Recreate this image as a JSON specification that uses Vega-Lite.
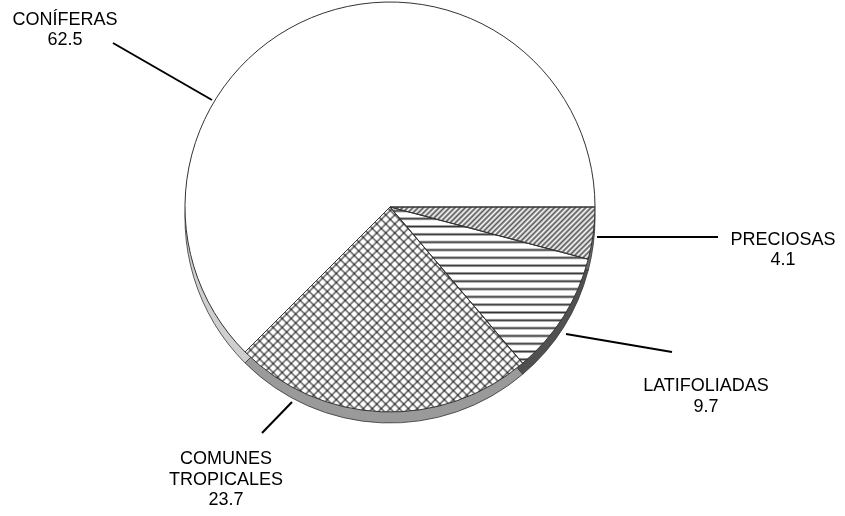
{
"$schema":"https://vega.github.io/schema/vega-lite/v6.json",
"width":780,"height":414,"autosize":"none",
"padding":{"left":0,"top":0,"right":65,"bottom":102},
"background":"#ffffff",
"config":{"view":{"stroke":null}},
"data":{"values":[
{"tipo":"PRECIOSAS","valor":4.1,"orden":1},
{"tipo":"LATIFOLIADAS","valor":9.7,"orden":2},
{"tipo":"COMUNES TROPICALES","valor":23.7,"orden":3},
{"tipo":"CONÍFERAS","valor":62.5,"orden":4}
]},
"layer":[
{
"encoding":{
"theta":{"field":"valor","type":"quantitative","stack":true,"scale":{"range":[1.5707963,7.8539816]}},
"order":{"field":"orden","type":"quantitative"},
"detail":{"field":"tipo","type":"nominal"}
},
"layer":[
{"mark":{"type":"arc","radius":205,"yOffset":11,"stroke":"#333333","strokeWidth":0.8},
"encoding":{"fill":{"condition":[
{"test":"datum.tipo==='CONÍFERAS'","value":"#cfcfcf"},
{"test":"datum.tipo==='COMUNES TROPICALES'","value":"#9a9a9a"},
{"test":"datum.tipo==='LATIFOLIADAS'","value":"#505050"}],"value":"#6a6a6a"}}},
{"mark":{"type":"arc","radius":205},
"encoding":{"fill":{"condition":[
{"test":"datum.tipo==='PRECIOSAS'","value":{"gradient":"linear","x1":0,"y1":0,"x2":1.2,"y2":0.3055,"stops":[
{"offset":0,"color":"#fff"},{"offset":0.01,"color":"#555"},{"offset":0.02,"color":"#fff"},{"offset":0.03,"color":"#555"},{"offset":0.04,"color":"#fff"},{"offset":0.05,"color":"#555"},{"offset":0.06,"color":"#fff"},{"offset":0.07,"color":"#555"},{"offset":0.08,"color":"#fff"},{"offset":0.09,"color":"#555"},
{"offset":0.1,"color":"#fff"},{"offset":0.11,"color":"#555"},{"offset":0.12,"color":"#fff"},{"offset":0.13,"color":"#555"},{"offset":0.14,"color":"#fff"},{"offset":0.15,"color":"#555"},{"offset":0.16,"color":"#fff"},{"offset":0.17,"color":"#555"},{"offset":0.18,"color":"#fff"},{"offset":0.19,"color":"#555"},
{"offset":0.2,"color":"#fff"},{"offset":0.21,"color":"#555"},{"offset":0.22,"color":"#fff"},{"offset":0.23,"color":"#555"},{"offset":0.24,"color":"#fff"},{"offset":0.25,"color":"#555"},{"offset":0.26,"color":"#fff"},{"offset":0.27,"color":"#555"},{"offset":0.28,"color":"#fff"},{"offset":0.29,"color":"#555"},
{"offset":0.3,"color":"#fff"},{"offset":0.31,"color":"#555"},{"offset":0.32,"color":"#fff"},{"offset":0.33,"color":"#555"},{"offset":0.34,"color":"#fff"},{"offset":0.35,"color":"#555"},{"offset":0.36,"color":"#fff"},{"offset":0.37,"color":"#555"},{"offset":0.38,"color":"#fff"},{"offset":0.39,"color":"#555"},
{"offset":0.4,"color":"#fff"},{"offset":0.41,"color":"#555"},{"offset":0.42,"color":"#fff"},{"offset":0.43,"color":"#555"},{"offset":0.44,"color":"#fff"},{"offset":0.45,"color":"#555"},{"offset":0.46,"color":"#fff"},{"offset":0.47,"color":"#555"},{"offset":0.48,"color":"#fff"},{"offset":0.49,"color":"#555"},
{"offset":0.5,"color":"#fff"},{"offset":0.51,"color":"#555"},{"offset":0.52,"color":"#fff"},{"offset":0.53,"color":"#555"},{"offset":0.54,"color":"#fff"},{"offset":0.55,"color":"#555"},{"offset":0.56,"color":"#fff"},{"offset":0.57,"color":"#555"},{"offset":0.58,"color":"#fff"},{"offset":0.59,"color":"#555"},
{"offset":0.6,"color":"#fff"},{"offset":0.61,"color":"#555"},{"offset":0.62,"color":"#fff"},{"offset":0.63,"color":"#555"},{"offset":0.64,"color":"#fff"},{"offset":0.65,"color":"#555"},{"offset":0.66,"color":"#fff"},{"offset":0.67,"color":"#555"},{"offset":0.68,"color":"#fff"},{"offset":0.69,"color":"#555"},
{"offset":0.7,"color":"#fff"},{"offset":0.71,"color":"#555"},{"offset":0.72,"color":"#fff"},{"offset":0.73,"color":"#555"},{"offset":0.74,"color":"#fff"},{"offset":0.75,"color":"#555"},{"offset":0.76,"color":"#fff"},{"offset":0.77,"color":"#555"},{"offset":0.78,"color":"#fff"},{"offset":0.79,"color":"#555"},
{"offset":0.8,"color":"#fff"},{"offset":0.81,"color":"#555"},{"offset":0.82,"color":"#fff"},{"offset":0.83,"color":"#555"},{"offset":0.84,"color":"#fff"},{"offset":0.85,"color":"#555"},{"offset":0.86,"color":"#fff"},{"offset":0.87,"color":"#555"},{"offset":0.88,"color":"#fff"},{"offset":0.89,"color":"#555"},
{"offset":0.9,"color":"#fff"},{"offset":0.91,"color":"#555"},{"offset":0.92,"color":"#fff"},{"offset":0.93,"color":"#555"},{"offset":0.94,"color":"#fff"},{"offset":0.95,"color":"#555"},{"offset":0.96,"color":"#fff"},{"offset":0.97,"color":"#555"},{"offset":0.98,"color":"#fff"},{"offset":0.99,"color":"#555"},
{"offset":1,"color":"#fff"}]}},
{"test":"datum.tipo==='LATIFOLIADAS'","value":{"gradient":"linear","x1":0,"y1":0,"x2":0,"y2":1,"stops":[
{"offset":0.0125,"color":"#fff"},{"offset":0.025,"color":"#333"},{"offset":0.0375,"color":"#fff"},
{"offset":0.0625,"color":"#fff"},{"offset":0.075,"color":"#333"},{"offset":0.0875,"color":"#fff"},
{"offset":0.1125,"color":"#fff"},{"offset":0.125,"color":"#333"},{"offset":0.1375,"color":"#fff"},
{"offset":0.1625,"color":"#fff"},{"offset":0.175,"color":"#333"},{"offset":0.1875,"color":"#fff"},
{"offset":0.2125,"color":"#fff"},{"offset":0.225,"color":"#333"},{"offset":0.2375,"color":"#fff"},
{"offset":0.2625,"color":"#fff"},{"offset":0.275,"color":"#333"},{"offset":0.2875,"color":"#fff"},
{"offset":0.3125,"color":"#fff"},{"offset":0.325,"color":"#333"},{"offset":0.3375,"color":"#fff"},
{"offset":0.3625,"color":"#fff"},{"offset":0.375,"color":"#333"},{"offset":0.3875,"color":"#fff"},
{"offset":0.4125,"color":"#fff"},{"offset":0.425,"color":"#333"},{"offset":0.4375,"color":"#fff"},
{"offset":0.4625,"color":"#fff"},{"offset":0.475,"color":"#333"},{"offset":0.4875,"color":"#fff"},
{"offset":0.5125,"color":"#fff"},{"offset":0.525,"color":"#333"},{"offset":0.5375,"color":"#fff"},
{"offset":0.5625,"color":"#fff"},{"offset":0.575,"color":"#333"},{"offset":0.5875,"color":"#fff"},
{"offset":0.6125,"color":"#fff"},{"offset":0.625,"color":"#333"},{"offset":0.6375,"color":"#fff"},
{"offset":0.6625,"color":"#fff"},{"offset":0.675,"color":"#333"},{"offset":0.6875,"color":"#fff"},
{"offset":0.7125,"color":"#fff"},{"offset":0.725,"color":"#333"},{"offset":0.7375,"color":"#fff"},
{"offset":0.7625,"color":"#fff"},{"offset":0.775,"color":"#333"},{"offset":0.7875,"color":"#fff"},
{"offset":0.8125,"color":"#fff"},{"offset":0.825,"color":"#333"},{"offset":0.8375,"color":"#fff"},
{"offset":0.8625,"color":"#fff"},{"offset":0.875,"color":"#333"},{"offset":0.8875,"color":"#fff"},
{"offset":0.9125,"color":"#fff"},{"offset":0.925,"color":"#333"},{"offset":0.9375,"color":"#fff"},
{"offset":0.9625,"color":"#fff"},{"offset":0.975,"color":"#333"},{"offset":0.9875,"color":"#fff"}]}},
{"test":"datum.tipo==='COMUNES TROPICALES'","value":{"gradient":"linear","x1":0,"y1":0,"x2":1.05,"y2":0.7754,"stops":[
{"offset":0.005,"color":"#fff"},{"offset":0.01,"color":"#666"},{"offset":0.015,"color":"#fff"},{"offset":0.025,"color":"#fff"},{"offset":0.03,"color":"#666"},{"offset":0.035,"color":"#fff"},{"offset":0.045,"color":"#fff"},{"offset":0.05,"color":"#666"},{"offset":0.055,"color":"#fff"},{"offset":0.065,"color":"#fff"},{"offset":0.07,"color":"#666"},{"offset":0.075,"color":"#fff"},{"offset":0.085,"color":"#fff"},{"offset":0.09,"color":"#666"},{"offset":0.095,"color":"#fff"},
{"offset":0.105,"color":"#fff"},{"offset":0.11,"color":"#666"},{"offset":0.115,"color":"#fff"},{"offset":0.125,"color":"#fff"},{"offset":0.13,"color":"#666"},{"offset":0.135,"color":"#fff"},{"offset":0.145,"color":"#fff"},{"offset":0.15,"color":"#666"},{"offset":0.155,"color":"#fff"},{"offset":0.165,"color":"#fff"},{"offset":0.17,"color":"#666"},{"offset":0.175,"color":"#fff"},{"offset":0.185,"color":"#fff"},{"offset":0.19,"color":"#666"},{"offset":0.195,"color":"#fff"},
{"offset":0.205,"color":"#fff"},{"offset":0.21,"color":"#666"},{"offset":0.215,"color":"#fff"},{"offset":0.225,"color":"#fff"},{"offset":0.23,"color":"#666"},{"offset":0.235,"color":"#fff"},{"offset":0.245,"color":"#fff"},{"offset":0.25,"color":"#666"},{"offset":0.255,"color":"#fff"},{"offset":0.265,"color":"#fff"},{"offset":0.27,"color":"#666"},{"offset":0.275,"color":"#fff"},{"offset":0.285,"color":"#fff"},{"offset":0.29,"color":"#666"},{"offset":0.295,"color":"#fff"},
{"offset":0.305,"color":"#fff"},{"offset":0.31,"color":"#666"},{"offset":0.315,"color":"#fff"},{"offset":0.325,"color":"#fff"},{"offset":0.33,"color":"#666"},{"offset":0.335,"color":"#fff"},{"offset":0.345,"color":"#fff"},{"offset":0.35,"color":"#666"},{"offset":0.355,"color":"#fff"},{"offset":0.365,"color":"#fff"},{"offset":0.37,"color":"#666"},{"offset":0.375,"color":"#fff"},{"offset":0.385,"color":"#fff"},{"offset":0.39,"color":"#666"},{"offset":0.395,"color":"#fff"},
{"offset":0.405,"color":"#fff"},{"offset":0.41,"color":"#666"},{"offset":0.415,"color":"#fff"},{"offset":0.425,"color":"#fff"},{"offset":0.43,"color":"#666"},{"offset":0.435,"color":"#fff"},{"offset":0.445,"color":"#fff"},{"offset":0.45,"color":"#666"},{"offset":0.455,"color":"#fff"},{"offset":0.465,"color":"#fff"},{"offset":0.47,"color":"#666"},{"offset":0.475,"color":"#fff"},{"offset":0.485,"color":"#fff"},{"offset":0.49,"color":"#666"},{"offset":0.495,"color":"#fff"},
{"offset":0.505,"color":"#fff"},{"offset":0.51,"color":"#666"},{"offset":0.515,"color":"#fff"},{"offset":0.525,"color":"#fff"},{"offset":0.53,"color":"#666"},{"offset":0.535,"color":"#fff"},{"offset":0.545,"color":"#fff"},{"offset":0.55,"color":"#666"},{"offset":0.555,"color":"#fff"},{"offset":0.565,"color":"#fff"},{"offset":0.57,"color":"#666"},{"offset":0.575,"color":"#fff"},{"offset":0.585,"color":"#fff"},{"offset":0.59,"color":"#666"},{"offset":0.595,"color":"#fff"},
{"offset":0.605,"color":"#fff"},{"offset":0.61,"color":"#666"},{"offset":0.615,"color":"#fff"},{"offset":0.625,"color":"#fff"},{"offset":0.63,"color":"#666"},{"offset":0.635,"color":"#fff"},{"offset":0.645,"color":"#fff"},{"offset":0.65,"color":"#666"},{"offset":0.655,"color":"#fff"},{"offset":0.665,"color":"#fff"},{"offset":0.67,"color":"#666"},{"offset":0.675,"color":"#fff"},{"offset":0.685,"color":"#fff"},{"offset":0.69,"color":"#666"},{"offset":0.695,"color":"#fff"},
{"offset":0.705,"color":"#fff"},{"offset":0.71,"color":"#666"},{"offset":0.715,"color":"#fff"},{"offset":0.725,"color":"#fff"},{"offset":0.73,"color":"#666"},{"offset":0.735,"color":"#fff"},{"offset":0.745,"color":"#fff"},{"offset":0.75,"color":"#666"},{"offset":0.755,"color":"#fff"},{"offset":0.765,"color":"#fff"},{"offset":0.77,"color":"#666"},{"offset":0.775,"color":"#fff"},{"offset":0.785,"color":"#fff"},{"offset":0.79,"color":"#666"},{"offset":0.795,"color":"#fff"},
{"offset":0.805,"color":"#fff"},{"offset":0.81,"color":"#666"},{"offset":0.815,"color":"#fff"},{"offset":0.825,"color":"#fff"},{"offset":0.83,"color":"#666"},{"offset":0.835,"color":"#fff"},{"offset":0.845,"color":"#fff"},{"offset":0.85,"color":"#666"},{"offset":0.855,"color":"#fff"},{"offset":0.865,"color":"#fff"},{"offset":0.87,"color":"#666"},{"offset":0.875,"color":"#fff"},{"offset":0.885,"color":"#fff"},{"offset":0.89,"color":"#666"},{"offset":0.895,"color":"#fff"},
{"offset":0.905,"color":"#fff"},{"offset":0.91,"color":"#666"},{"offset":0.915,"color":"#fff"},{"offset":0.925,"color":"#fff"},{"offset":0.93,"color":"#666"},{"offset":0.935,"color":"#fff"},{"offset":0.945,"color":"#fff"},{"offset":0.95,"color":"#666"},{"offset":0.955,"color":"#fff"},{"offset":0.965,"color":"#fff"},{"offset":0.97,"color":"#666"},{"offset":0.975,"color":"#fff"},{"offset":0.985,"color":"#fff"},{"offset":0.99,"color":"#666"},{"offset":0.995,"color":"#fff"}]}}
],"value":"#ffffff"}}},
{"mark":{"type":"arc","radius":205,"blend":"multiply"},
"encoding":{"fill":{"condition":[
{"test":"datum.tipo==='COMUNES TROPICALES'","value":{"gradient":"linear","x1":0,"y1":1,"x2":1.05,"y2":0.2246,"stops":[
{"offset":0.005,"color":"#fff"},{"offset":0.01,"color":"#666"},{"offset":0.015,"color":"#fff"},{"offset":0.025,"color":"#fff"},{"offset":0.03,"color":"#666"},{"offset":0.035,"color":"#fff"},{"offset":0.045,"color":"#fff"},{"offset":0.05,"color":"#666"},{"offset":0.055,"color":"#fff"},{"offset":0.065,"color":"#fff"},{"offset":0.07,"color":"#666"},{"offset":0.075,"color":"#fff"},{"offset":0.085,"color":"#fff"},{"offset":0.09,"color":"#666"},{"offset":0.095,"color":"#fff"},
{"offset":0.105,"color":"#fff"},{"offset":0.11,"color":"#666"},{"offset":0.115,"color":"#fff"},{"offset":0.125,"color":"#fff"},{"offset":0.13,"color":"#666"},{"offset":0.135,"color":"#fff"},{"offset":0.145,"color":"#fff"},{"offset":0.15,"color":"#666"},{"offset":0.155,"color":"#fff"},{"offset":0.165,"color":"#fff"},{"offset":0.17,"color":"#666"},{"offset":0.175,"color":"#fff"},{"offset":0.185,"color":"#fff"},{"offset":0.19,"color":"#666"},{"offset":0.195,"color":"#fff"},
{"offset":0.205,"color":"#fff"},{"offset":0.21,"color":"#666"},{"offset":0.215,"color":"#fff"},{"offset":0.225,"color":"#fff"},{"offset":0.23,"color":"#666"},{"offset":0.235,"color":"#fff"},{"offset":0.245,"color":"#fff"},{"offset":0.25,"color":"#666"},{"offset":0.255,"color":"#fff"},{"offset":0.265,"color":"#fff"},{"offset":0.27,"color":"#666"},{"offset":0.275,"color":"#fff"},{"offset":0.285,"color":"#fff"},{"offset":0.29,"color":"#666"},{"offset":0.295,"color":"#fff"},
{"offset":0.305,"color":"#fff"},{"offset":0.31,"color":"#666"},{"offset":0.315,"color":"#fff"},{"offset":0.325,"color":"#fff"},{"offset":0.33,"color":"#666"},{"offset":0.335,"color":"#fff"},{"offset":0.345,"color":"#fff"},{"offset":0.35,"color":"#666"},{"offset":0.355,"color":"#fff"},{"offset":0.365,"color":"#fff"},{"offset":0.37,"color":"#666"},{"offset":0.375,"color":"#fff"},{"offset":0.385,"color":"#fff"},{"offset":0.39,"color":"#666"},{"offset":0.395,"color":"#fff"},
{"offset":0.405,"color":"#fff"},{"offset":0.41,"color":"#666"},{"offset":0.415,"color":"#fff"},{"offset":0.425,"color":"#fff"},{"offset":0.43,"color":"#666"},{"offset":0.435,"color":"#fff"},{"offset":0.445,"color":"#fff"},{"offset":0.45,"color":"#666"},{"offset":0.455,"color":"#fff"},{"offset":0.465,"color":"#fff"},{"offset":0.47,"color":"#666"},{"offset":0.475,"color":"#fff"},{"offset":0.485,"color":"#fff"},{"offset":0.49,"color":"#666"},{"offset":0.495,"color":"#fff"},
{"offset":0.505,"color":"#fff"},{"offset":0.51,"color":"#666"},{"offset":0.515,"color":"#fff"},{"offset":0.525,"color":"#fff"},{"offset":0.53,"color":"#666"},{"offset":0.535,"color":"#fff"},{"offset":0.545,"color":"#fff"},{"offset":0.55,"color":"#666"},{"offset":0.555,"color":"#fff"},{"offset":0.565,"color":"#fff"},{"offset":0.57,"color":"#666"},{"offset":0.575,"color":"#fff"},{"offset":0.585,"color":"#fff"},{"offset":0.59,"color":"#666"},{"offset":0.595,"color":"#fff"},
{"offset":0.605,"color":"#fff"},{"offset":0.61,"color":"#666"},{"offset":0.615,"color":"#fff"},{"offset":0.625,"color":"#fff"},{"offset":0.63,"color":"#666"},{"offset":0.635,"color":"#fff"},{"offset":0.645,"color":"#fff"},{"offset":0.65,"color":"#666"},{"offset":0.655,"color":"#fff"},{"offset":0.665,"color":"#fff"},{"offset":0.67,"color":"#666"},{"offset":0.675,"color":"#fff"},{"offset":0.685,"color":"#fff"},{"offset":0.69,"color":"#666"},{"offset":0.695,"color":"#fff"},
{"offset":0.705,"color":"#fff"},{"offset":0.71,"color":"#666"},{"offset":0.715,"color":"#fff"},{"offset":0.725,"color":"#fff"},{"offset":0.73,"color":"#666"},{"offset":0.735,"color":"#fff"},{"offset":0.745,"color":"#fff"},{"offset":0.75,"color":"#666"},{"offset":0.755,"color":"#fff"},{"offset":0.765,"color":"#fff"},{"offset":0.77,"color":"#666"},{"offset":0.775,"color":"#fff"},{"offset":0.785,"color":"#fff"},{"offset":0.79,"color":"#666"},{"offset":0.795,"color":"#fff"},
{"offset":0.805,"color":"#fff"},{"offset":0.81,"color":"#666"},{"offset":0.815,"color":"#fff"},{"offset":0.825,"color":"#fff"},{"offset":0.83,"color":"#666"},{"offset":0.835,"color":"#fff"},{"offset":0.845,"color":"#fff"},{"offset":0.85,"color":"#666"},{"offset":0.855,"color":"#fff"},{"offset":0.865,"color":"#fff"},{"offset":0.87,"color":"#666"},{"offset":0.875,"color":"#fff"},{"offset":0.885,"color":"#fff"},{"offset":0.89,"color":"#666"},{"offset":0.895,"color":"#fff"},
{"offset":0.905,"color":"#fff"},{"offset":0.91,"color":"#666"},{"offset":0.915,"color":"#fff"},{"offset":0.925,"color":"#fff"},{"offset":0.93,"color":"#666"},{"offset":0.935,"color":"#fff"},{"offset":0.945,"color":"#fff"},{"offset":0.95,"color":"#666"},{"offset":0.955,"color":"#fff"},{"offset":0.965,"color":"#fff"},{"offset":0.97,"color":"#666"},{"offset":0.975,"color":"#fff"},{"offset":0.985,"color":"#fff"},{"offset":0.99,"color":"#666"},{"offset":0.995,"color":"#fff"}]}}
],"value":"#ffffff"}}},
{"mark":{"type":"arc","radius":205,"fillOpacity":0,"stroke":"#333333","strokeWidth":1}}
]
},
{"transform":[{"filter":"datum.tipo==='CONÍFERAS'"}],
"layer":[
{"mark":{"type":"rule","stroke":"#000000","strokeWidth":2},"encoding":{"x":{"value":113},"y":{"value":43},"x2":{"value":212},"y2":{"value":100}}},
{"mark":{"type":"text","x":65,"y":25,"font":"Liberation Sans","fontSize":18,"align":"center","baseline":"alphabetic","fill":"#000000"},"encoding":{"text":{"field":"tipo","type":"nominal"}}},
{"mark":{"type":"text","x":65,"y":45,"font":"Liberation Sans","fontSize":18,"align":"center","baseline":"alphabetic","fill":"#000000"},"encoding":{"text":{"field":"valor","type":"quantitative","format":".1f"}}}
]},
{"transform":[{"filter":"datum.tipo==='PRECIOSAS'"}],
"layer":[
{"mark":{"type":"rule","stroke":"#000000","strokeWidth":2},"encoding":{"x":{"value":597},"y":{"value":237},"x2":{"value":718},"y2":{"value":237}}},
{"mark":{"type":"text","x":783,"y":245,"font":"Liberation Sans","fontSize":18,"align":"center","baseline":"alphabetic","fill":"#000000"},"encoding":{"text":{"field":"tipo","type":"nominal"}}},
{"mark":{"type":"text","x":783,"y":265,"font":"Liberation Sans","fontSize":18,"align":"center","baseline":"alphabetic","fill":"#000000"},"encoding":{"text":{"field":"valor","type":"quantitative","format":".1f"}}}
]},
{"transform":[{"filter":"datum.tipo==='LATIFOLIADAS'"}],
"layer":[
{"mark":{"type":"rule","stroke":"#000000","strokeWidth":2},"encoding":{"x":{"value":566},"y":{"value":334},"x2":{"value":672},"y2":{"value":352}}},
{"mark":{"type":"text","x":706,"y":391,"font":"Liberation Sans","fontSize":18,"align":"center","baseline":"alphabetic","fill":"#000000"},"encoding":{"text":{"field":"tipo","type":"nominal"}}},
{"mark":{"type":"text","x":706,"y":412,"font":"Liberation Sans","fontSize":18,"align":"center","baseline":"alphabetic","fill":"#000000"},"encoding":{"text":{"field":"valor","type":"quantitative","format":".1f"}}}
]},
{"transform":[{"filter":"datum.tipo==='COMUNES TROPICALES'"}],
"layer":[
{"mark":{"type":"rule","stroke":"#000000","strokeWidth":2},"encoding":{"x":{"value":292},"y":{"value":402},"x2":{"value":262},"y2":{"value":433}}},
{"mark":{"type":"text","x":226,"y":464,"font":"Liberation Sans","fontSize":18,"align":"center","baseline":"alphabetic","fill":"#000000","lineBreak":" ","lineHeight":21},"encoding":{"text":{"field":"tipo","type":"nominal"}}},
{"mark":{"type":"text","x":226,"y":505,"font":"Liberation Sans","fontSize":18,"align":"center","baseline":"alphabetic","fill":"#000000"},"encoding":{"text":{"field":"valor","type":"quantitative","format":".1f"}}}
]}
]
}
